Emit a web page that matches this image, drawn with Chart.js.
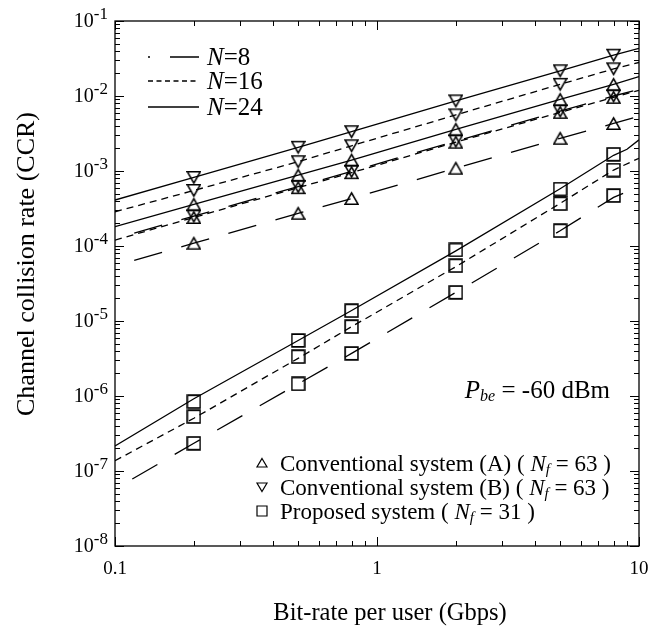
<!DOCTYPE html>
<html>
<head>
<meta charset="utf-8">
<script src="https://cdn.jsdelivr.net/npm/chart.js@4.4.0/dist/chart.umd.min.js"></script>
<style>
  body { margin: 0; background: #fff; }
</style>
</head>
<body>
<canvas id="ccr" width="666" height="628"></canvas>
<script>
// bit-rate per user (Gbps) where the simulation points are
var rates = [0.2, 0.5, 0.8, 2, 5, 8];

// simulated CCR (markers)
var convA8 = [1.09e-4, 2.73e-4, 4.3e-4, 1.09e-3, 2.73e-3, 4.3e-3];
var convA16 = [2.4e-4, 6.0e-4, 9.5e-4, 2.42e-3, 6.05e-3, 9.6e-3];
var convA24 = [3.6e-4, 8.8e-4, 1.4e-3, 3.6e-3, 9.0e-3, 1.43e-2];
var convB8 = [2.5e-4, 6.2e-4, 9.9e-4, 2.5e-3, 6.3e-3, 1.0e-2];
var convB16 = [5.5e-4, 1.33e-3, 2.17e-3, 5.6e-3, 1.43e-2, 2.3e-2];
var convB24 = [8.2e-4, 2.07e-3, 3.34e-3, 8.6e-3, 2.17e-2, 3.5e-2];
var prop8 = [2.34e-7, 1.45e-6, 3.7e-6, 2.41e-5, 1.6e-4, 4.7e-4];
var prop16 = [5.3e-7, 3.34e-6, 8.4e-6, 5.46e-5, 3.66e-4, 1.03e-3];
var prop24 = [8.4e-7, 5.5e-6, 1.37e-5, 8.85e-5, 5.75e-4, 1.67e-3];

// analytical curves
var lineRates = [0.1, 0.2, 0.5, 0.8, 2, 5, 8, 10];
var convA8Line = [5.4e-5, 1.09e-4, 2.73e-4, 4.3e-4, 1.09e-3, 2.73e-3, 4.3e-3, 5.4e-3];
var convA16Line = [1.2e-4, 2.4e-4, 6.0e-4, 9.5e-4, 2.42e-3, 6.05e-3, 9.6e-3, 1.19e-2];
var convA24Line = [1.81e-4, 3.6e-4, 8.8e-4, 1.4e-3, 3.6e-3, 9.0e-3, 1.43e-2, 1.81e-2];
var convB8Line = [1.25e-4, 2.5e-4, 6.2e-4, 9.9e-4, 2.5e-3, 6.3e-3, 1.0e-2, 1.23e-2];
var convB16Line = [2.86e-4, 5.5e-4, 1.33e-3, 2.17e-3, 5.6e-3, 1.43e-2, 2.3e-2, 2.8e-2];
var convB24Line = [4.1e-4, 8.2e-4, 2.07e-3, 3.34e-3, 8.6e-3, 2.17e-2, 3.5e-2, 4.33e-2];
var prop8Line = [5.75e-8, 2.34e-7, 1.45e-6, 3.7e-6, 2.41e-5, 1.6e-4, 4.44e-4, 6.2e-4];
var prop16Line = [1.37e-7, 5.05e-7, 3.18e-6, 8.4e-6, 5.3e-5, 3.7e-4, 1.03e-3, 1.48e-3];
var prop24Rates = [0.1, 0.2, 0.5, 0.8, 2, 5, 8, 9, 10];
var prop24Line = [2.15e-7, 9.2e-7, 5.5e-6, 1.38e-5, 8.6e-5, 5.8e-4, 1.62e-3, 1.95e-3, 2.6e-3];

var xTickValues = [0.1, 1, 10];
var xTickLabels = ["0.1", "1", "10"];
var yTickExps = [-1, -2, -3, -4, -5, -6, -7, -8];

var SERIF = "'Liberation Serif', 'Times New Roman', serif";
var DASH8 = [29, 20];
var DASH16 = [7, 5];

function toPoints(xs, ys) {
  return xs.map(function (x, i) {
    return { x: x, y: ys[i] };
  });
}

function markerImage(kind) {
  var c = document.createElement("canvas");
  c.width = 15;
  c.height = 15;
  var g = c.getContext("2d");
  g.strokeStyle = "#000";
  g.lineWidth = 1.6;
  g.beginPath();
  if (kind === "up") {
    g.moveTo(7.5, 1.8);
    g.lineTo(13.9, 13.2);
    g.lineTo(1.1, 13.2);
  } else if (kind === "down") {
    g.moveTo(7.5, 13.2);
    g.lineTo(13.9, 1.8);
    g.lineTo(1.1, 1.8);
  } else {
    g.rect(1.1, 1.1, 12.8, 12.8);
  }
  g.closePath();
  g.stroke();
  return c;
}

var triUp = markerImage("up");
var triDown = markerImage("down");
var square = markerImage("square");

function lineSet(xs, ys, dash, offset) {
  return {
    data: toPoints(xs, ys),
    showLine: true,
    pointRadius: 0,
    borderColor: "#000",
    borderWidth: 1.3,
    borderDash: dash,
    borderDashOffset: offset || 0,
    fill: false
  };
}

function markerSet(ys, img) {
  return {
    data: toPoints(rates, ys),
    showLine: false,
    pointStyle: img,
    pointRadius: 7,
    borderColor: "#000",
    backgroundColor: "rgba(0,0,0,0)"
  };
}

function drawRich(ctx, parts, x, y, align) {
  var total = 0;
  parts.forEach(function (p) {
    ctx.font = p.font;
    p.w = ctx.measureText(p.t).width;
    total += p.w;
  });
  var cx = x;
  if (align === "right") cx = x - total;
  if (align === "center") cx = x - total / 2;
  parts.forEach(function (p) {
    ctx.font = p.font;
    ctx.fillText(p.t, cx, y + (p.dy || 0));
    cx += p.w;
  });
}

function smallMarker(ctx, kind, x, y) {
  ctx.beginPath();
  if (kind === "up") {
    ctx.moveTo(x, y - 4.5);
    ctx.lineTo(x + 5, y + 4);
    ctx.lineTo(x - 5, y + 4);
  } else if (kind === "down") {
    ctx.moveTo(x, y + 4.5);
    ctx.lineTo(x + 5, y - 4);
    ctx.lineTo(x - 5, y - 4);
  } else {
    ctx.rect(x - 5, y - 5, 10, 10);
  }
  ctx.closePath();
  ctx.stroke();
}

var decor = {
  id: "decor",
  afterDraw: function (chart) {
    var ctx = chart.ctx;
    var xs = chart.scales.x;
    var ys = chart.scales.y;
    var a = chart.chartArea;
    var i, k, v, p, len;
    ctx.save();
    ctx.strokeStyle = "#000";
    ctx.fillStyle = "#000";
    ctx.setLineDash([]);
    ctx.lineWidth = 1.3;
    ctx.strokeRect(a.left, a.top, a.right - a.left, a.bottom - a.top);

    // inward ticks on all four sides
    ctx.lineWidth = 1;
    ctx.beginPath();
    var xDecades = [0.1, 1];
    for (i = 0; i < xDecades.length; i++) {
      for (k = 1; k <= 10; k++) {
        v = xDecades[i] * k;
        p = Math.round(xs.getPixelForValue(v)) + 0.5;
        len = (k === 1 || k === 10) ? 9 : 5;
        ctx.moveTo(p, a.bottom);
        ctx.lineTo(p, a.bottom - len);
        ctx.moveTo(p, a.top);
        ctx.lineTo(p, a.top + len);
      }
    }
    for (i = -8; i <= -2; i++) {
      for (k = 1; k <= 10; k++) {
        v = k * Math.pow(10, i);
        p = Math.round(ys.getPixelForValue(v)) + 0.5;
        len = (k === 1 || k === 10) ? 9 : 5;
        ctx.moveTo(a.left, p);
        ctx.lineTo(a.left + len, p);
        ctx.moveTo(a.right, p);
        ctx.lineTo(a.right - len, p);
      }
    }
    ctx.stroke();

    // tick labels
    ctx.textBaseline = "alphabetic";
    ctx.textAlign = "left";
    for (i = 0; i < xTickValues.length; i++) {
      p = xs.getPixelForValue(xTickValues[i]);
      drawRich(ctx, [{ t: xTickLabels[i], font: "19px " + SERIF }], p, a.bottom + 28, "center");
    }
    for (i = 0; i < yTickExps.length; i++) {
      p = ys.getPixelForValue(Math.pow(10, yTickExps[i]));
      drawRich(ctx, [
        { t: "10", font: "20px " + SERIF },
        { t: String(yTickExps[i]), font: "17px " + SERIF, dy: -8 }
      ], 108, p + 6, "right");
    }

    // axis titles
    drawRich(ctx, [{ t: "Bit-rate per user (Gbps)", font: "24.5px " + SERIF }], 390, 620, "center");
    ctx.save();
    ctx.translate(34, 264);
    ctx.rotate(-Math.PI / 2);
    drawRich(ctx, [{ t: "Channel collision rate (CCR)", font: "26px " + SERIF }], 0, 0, "center");
    ctx.restore();

    // line style legend
    var styles = [
      { label: "8", dash: DASH8, off: 27 },
      { label: "16", dash: [5, 3.5], off: 0 },
      { label: "24", dash: [], off: 0 }
    ];
    var rows = [57, 81, 107];
    ctx.lineWidth = 1.3;
    for (i = 0; i < styles.length; i++) {
      ctx.setLineDash(styles[i].dash);
      ctx.lineDashOffset = styles[i].off;
      ctx.beginPath();
      ctx.moveTo(148, rows[i]);
      ctx.lineTo(199, rows[i]);
      ctx.stroke();
      drawRich(ctx, [
        { t: "N", font: "italic 25px " + SERIF },
        { t: "=" + styles[i].label, font: "25px " + SERIF }
      ], 207, rows[i] + 8, "left");
    }
    ctx.setLineDash([]);
    ctx.lineDashOffset = 0;

    // marker legend
    var mk = [
      { kind: "up", text: "Conventional system (A) ( ", nf: "63" },
      { kind: "down", text: "Conventional system (B) ( ", nf: "63" },
      { kind: "square", text: "Proposed system ( ", nf: "31" }
    ];
    var mrows = [463, 487, 511];
    ctx.lineWidth = 1.2;
    for (i = 0; i < mk.length; i++) {
      smallMarker(ctx, mk[i].kind, 262, mrows[i]);
      drawRich(ctx, [
        { t: mk[i].text, font: "23px " + SERIF },
        { t: "N", font: "italic 23px " + SERIF },
        { t: "f", font: "italic 15px " + SERIF, dy: 3 },
        { t: " = " + mk[i].nf + " )", font: "23px " + SERIF }
      ], 280, mrows[i] + 8, "left");
    }

    drawRich(ctx, [
      { t: "P", font: "italic 25px " + SERIF },
      { t: "be", font: "italic 16px " + SERIF, dy: 3 },
      { t: " = -60 dBm", font: "25px " + SERIF }
    ], 610, 398, "right");

    ctx.restore();
  }
};

var datasets = [
  lineSet(lineRates, convA8Line, DASH8, 29),
  lineSet(lineRates, convA16Line, DASH16, 0),
  lineSet(lineRates, convA24Line, [], 0),
  lineSet(lineRates, convB8Line, DASH8, 29),
  lineSet(lineRates, convB16Line, DASH16, 0),
  lineSet(lineRates, convB24Line, [], 0),
  lineSet(lineRates, prop8Line, DASH8, 29),
  lineSet(lineRates, prop16Line, DASH16, 0),
  lineSet(prop24Rates, prop24Line, [], 0),
  markerSet(convA8, triUp),
  markerSet(convA16, triUp),
  markerSet(convA24, triUp),
  markerSet(convB8, triDown),
  markerSet(convB16, triDown),
  markerSet(convB24, triDown),
  markerSet(prop8, square),
  markerSet(prop16, square),
  markerSet(prop24, square)
];

new Chart(document.getElementById("ccr"), {
  type: "scatter",
  data: { datasets: datasets },
  options: {
    responsive: false,
    animation: false,
    events: [],
    layout: { padding: { left: 115, right: 27, top: 21, bottom: 82 } },
    plugins: { legend: { display: false }, tooltip: { enabled: false } },
    scales: {
      x: { type: "logarithmic", min: 0.1, max: 10, display: false },
      y: { type: "logarithmic", min: 1e-8, max: 1e-1, display: false }
    }
  },
  plugins: [decor]
});
</script>
</body>
</html>
